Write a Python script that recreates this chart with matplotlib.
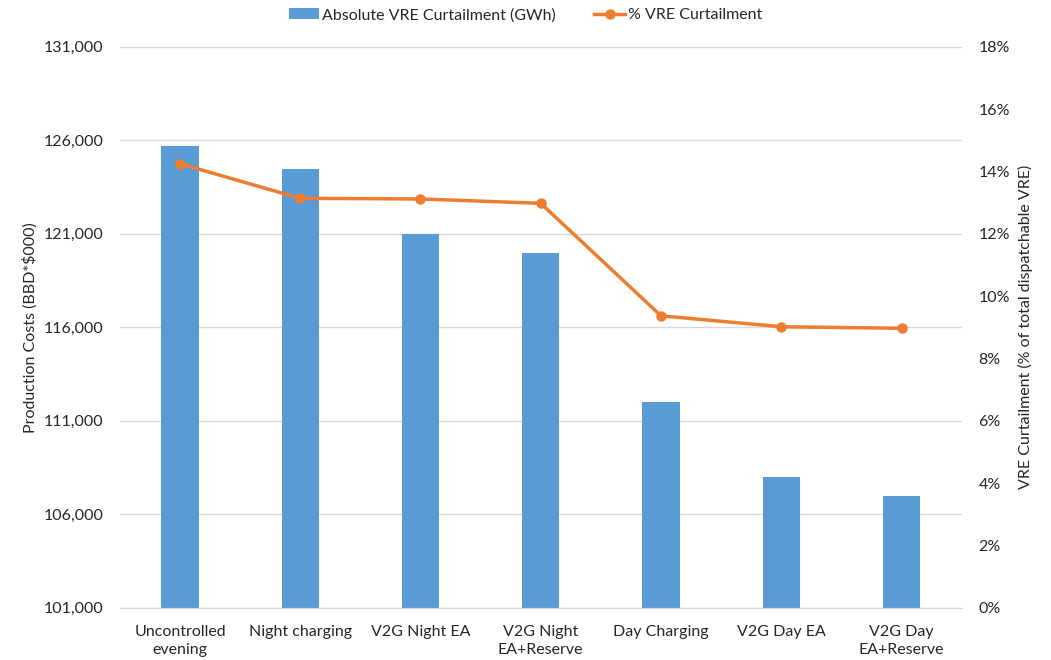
import numpy as np
import matplotlib.pyplot as plt
from matplotlib.ticker import FuncFormatter

# scenario data
escenarios = ["Uncontrolled\nevening", "Night charging", "V2G Night EA",
              "V2G Night\nEA+Reserve", "Day Charging", "V2G Day EA",
              "V2G Day\nEA+Reserve"]
costos = [125700, 124450, 121000, 120000, 112000, 108000, 107000]
curtail_pct = [14.25, 13.14, 13.12, 12.98, 9.37, 9.02, 8.97]

plt.rcParams["font.family"] = ["Lato", "DejaVu Sans"]
txt = "#262626"

fig = plt.figure(figsize=(10.51, 6.6), dpi=100)
ax = fig.add_axes([0.114, 0.079, 0.801, 0.850])
ax2 = ax.twinx()

x = np.arange(len(escenarios))
barras = ax.bar(x, costos, width=0.31, color="#5B9BD5", zorder=2,
                label="Absolute VRE Curtailment (GWh)")
linea, = ax2.plot(x, curtail_pct, color="#ED7D31", lw=2.5, marker="o",
                  markersize=6.5, zorder=3, label="% VRE Curtailment")

ax.set_ylim(101000, 131000)
ax.set_yticks(np.arange(101000, 131001, 5000))
ax.yaxis.set_major_formatter(FuncFormatter(lambda v, p: f"{int(v):,}"))
ax2.set_ylim(0, 18)
ax2.set_yticks(np.arange(0, 19, 2))
ax2.yaxis.set_major_formatter(FuncFormatter(lambda v, p: f"{int(v)}%"))

ax.set_xlim(-0.5, len(escenarios) - 0.5)
ax.set_xticks(x)
ax.set_xticklabels(escenarios, fontsize=11.5, linespacing=1.45)

ax.grid(axis="y", color="#D9D9D9", lw=1, zorder=0)
for a in (ax, ax2):
    for s in ["top", "left", "right"]:
        a.spines[s].set_visible(False)
    a.spines["bottom"].set_color("#D9D9D9")
    a.tick_params(length=0, labelsize=11.5, colors=txt)
ax.tick_params(axis="y", pad=12)
ax2.tick_params(axis="y", pad=12)
ax.tick_params(axis="x", pad=12)

ax.set_ylabel("Production Costs (BBD*$000)", fontsize=11.5, color=txt, labelpad=4)
ax2.set_ylabel("VRE Curtailment (% of total dispatchable VRE)", fontsize=11.5,
               color=txt, labelpad=6)

fig.legend(handles=[barras, linea], loc="center", bbox_to_anchor=(0.5, 0.977),
           ncol=2, frameon=False, fontsize=11.5, handlelength=1.9,
           handletextpad=0.2, columnspacing=2.4, labelcolor=txt)

fig.savefig("out.png", dpi=100)
